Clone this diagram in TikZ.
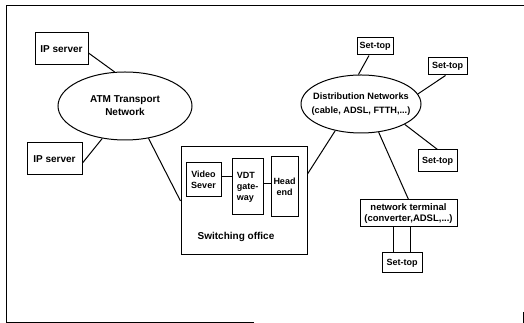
\documentclass[tikz,border=0pt]{standalone}
\usepackage{fontspec}
\setmainfont{Liberation Sans}
\usetikzlibrary{shapes.geometric}
\begin{document}
\begin{tikzpicture}[x=1pt,y=1pt,
  every node/.style={font=\fontsize{10}{13}\selectfont\bfseries, align=center, inner sep=1pt},
  small/.style={font=\fontsize{9}{11}\selectfont\bfseries},
  box/.style={draw, line width=1pt, rectangle, minimum width=#1},
  oval/.style={draw, line width=1pt, ellipse, inner sep=0pt},
  link/.style={line width=1pt}]
\useasboundingbox (0,0) rectangle (524,323);
% frame
\draw[line width=0.8pt] (254,1) -- (6,1) -- (6,318) -- (524,318);
\draw[line width=0.6pt] (523,11) -- (523,0);
% left side
\node[box=53, minimum height=32] (ip1) at (61.5,274) {IP server};
\node[box=55, minimum height=32] (ip2) at (54.5,164) {IP server};
\node[oval, minimum width=134, minimum height=68] (atm) at (125,217) {ATM Transport\\Network};
% switching office
\node[box=126, minimum height=108] (so) at (244,122) {};
\node[box=35, minimum height=34, small] (vs) at (203.5,143) {Video\\Sever};
\node[box=31, minimum height=56, align=left, small] (vdt) at (247.5,136) {VDT\\gate-\\way};
\node[box=27, minimum height=60, small] (he) at (284.5,136) {Head\\end};
\node (sot) at (236,86) {Switching office};
% right side
\node[oval, minimum width=120, minimum height=58, font=\fontsize{9.2}{14}\selectfont\bfseries] (dist) at (361,219)
  {\makebox[70pt][c]{Distribution Networks}\\\makebox[70pt][c]{(cable, ADSL, FTTH,...)}};
\node[box=36, minimum height=17, small] (st1) at (375,276.5) {Set-top};
\node[box=39, minimum height=17, small] (st2) at (447.5,256.5) {Set-top};
\node[box=39, minimum height=22, small] (st3) at (437.5,162) {Set-top};
\node[box=97, minimum height=27, inner sep=0.5pt, font=\fontsize{9.5}{11}\selectfont\bfseries] (nt) at (408.5,109.5) {network terminal\\(converter,ADSL,...)};
\node[box=40, minimum height=20, small] (st4) at (402,60) {Set-top};
% connectors
\draw[link] ([yshift=-4pt]ip1.east) -- (atm.107);
\draw[link] ([yshift=-4pt]ip2.east) -- (atm.235);
\draw[link] (atm.-54) -- (so.west);
\draw[link] ([yshift=3pt]vs.east) -- ([yshift=3pt]vs.east -| vdt.west);
\draw[link] ([yshift=3pt]vdt.east) -- ([yshift=3pt]vdt.east -| he.west);
\draw[link] (dist.226) -- ([yshift=27pt]so.east);
\draw[link] ([xshift=-6pt]st1.south) -- (dist.95);
\draw[link] ([xshift=-2pt]st2.south) -- (dist.10);
\draw[link] (dist.-25) -- (st3.north);
\draw[link] (dist.-58) -- (nt.north);
\draw[link] ([xshift=-9pt]st4.north) -- ([xshift=-9pt]st4.north |- nt.south);
\draw[link] ([xshift=8pt]st4.north) -- ([xshift=8pt]st4.north |- nt.south);
\end{tikzpicture}
\end{document}
